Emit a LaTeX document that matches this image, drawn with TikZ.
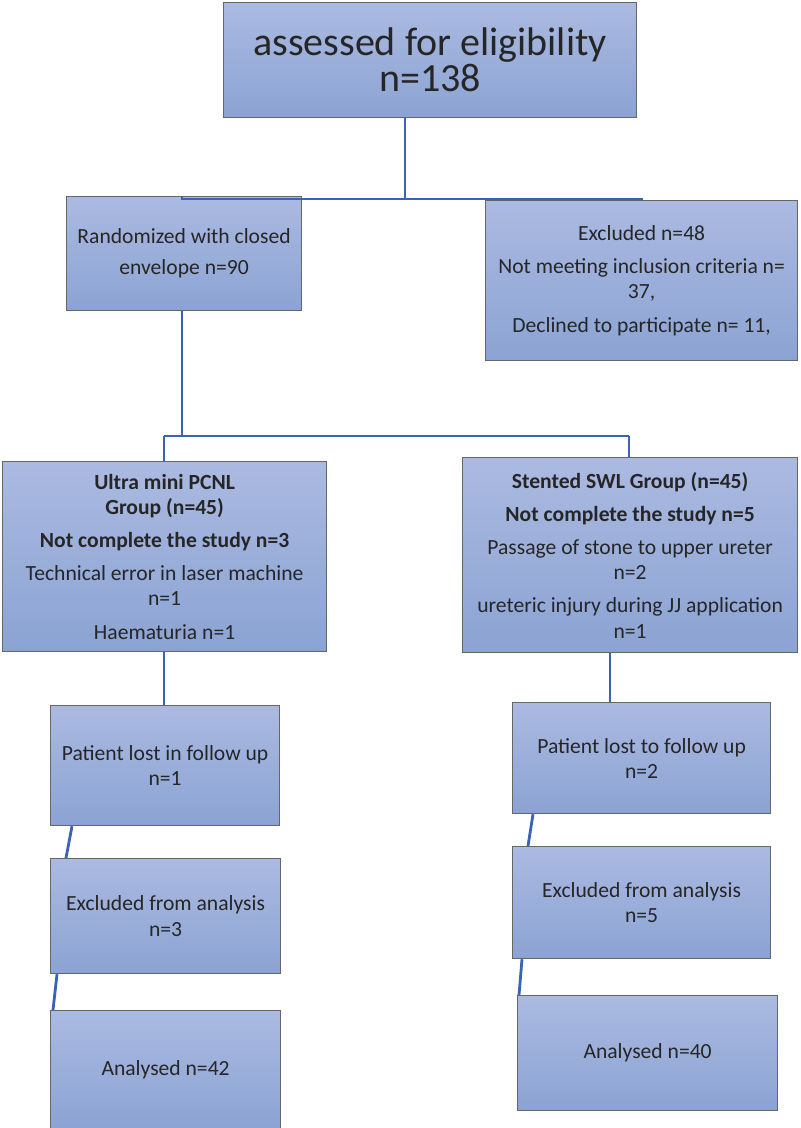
\documentclass[tikz,border=0pt]{standalone}
\usepackage{fontspec}
\setmainfont{Carlito}
\begin{document}
\begin{tikzpicture}[x=0.5pt,y=-0.5pt,
 box/.style={draw=gray!80!black,line width=0.6pt,top color=bxT,bottom color=bxB,inner sep=0pt,align=center,text=black!85,font=\fontsize{10.8}{12.6}\selectfont},
 ln/.style={draw=lnC,line width=1.4pt}]
\definecolor{bxT}{HTML}{ABBAE1}\definecolor{bxB}{HTML}{8BA3D3}\definecolor{lnC}{HTML}{3A63B3}
\useasboundingbox (0,0) rectangle (800,1128);
\newcommand\bx[6]{\node[box,minimum width={(#4-#2)*0.5pt},minimum height={(#5-#3)*0.5pt},anchor=north west] (#1) at (#2,#3) {#6};}
\bx{top}{223}{2}{636}{117}{\fontsize{20}{18}\selectfont assessed for eligibility\\\fontsize{20}{18}\selectfont n=138}
\bx{rand}{66}{196}{301}{310}{Randomized with closed\\[3pt]envelope n=90}
\bx{excl}{485}{200}{797}{360}{Excluded n=48\\[4pt]Not meeting inclusion criteria n=\\37,\\[4pt]Declined to participate n= 11,}
\bx{ultra}{2}{461}{326}{651}{\textbf{Ultra mini PCNL}\\\textbf{Group (n=45)}\\[4pt]\textbf{Not complete the study n=3}\\[4pt]Technical error in laser machine\\n=1\\[4pt]Haematuria n=1}
\bx{sten}{462}{457}{797}{652}{\textbf{Stented SWL Group (n=45)}\\[4pt]\textbf{Not complete the study n=5}\\[4pt]Passage of stone to upper ureter\\n=2\\[4pt]ureteric injury during JJ application\\n=1}
\bx{plL}{50}{705}{279}{825}{Patient lost in follow up\\n=1}
\bx{exL}{50}{858}{280}{973}{Excluded from analysis\\n=3}
\bx{anL}{50}{1010}{280}{1128}{Analysed n=42}
\bx{plR}{512}{702}{770}{813}{Patient lost to follow up\\n=2}
\bx{exR}{512}{846}{770}{958}{Excluded from analysis\\n=5}
\bx{anR}{517}{995}{777}{1110}{Analysed n=40}
\draw[ln] (top.south -| 405,0) -- (405,199) -| (rand.north -| 182,0);
\draw[ln] (405,199) -| (excl.north -| 642,0);
\draw[ln] (rand.south -| 182,0) -- (182,436);
\draw[ln] (164,436) -- (629,436);
\draw[ln] (164,436) -- (ultra.north -| 164,0);
\draw[ln] (629,436) -- (sten.north -| 629,0);
\draw[ln] (ultra.south -| 164,0) -- (plL.north -| 164,0);
\draw[ln] (sten.south -| 610,0) -- (plR.north -| 610,0);
\draw[ln] (plL.south -| 72,0) -- (exL.north -| 66,0);
\draw[ln] (exL.south -| 57,0) -- (anL.north -| 53,0);
\draw[ln] (plR.south -| 533,0) -- (exR.north -| 528,0);
\draw[ln] (exR.south -| 522,0) -- (anR.north -| 519,0);
\end{tikzpicture}
\end{document}
